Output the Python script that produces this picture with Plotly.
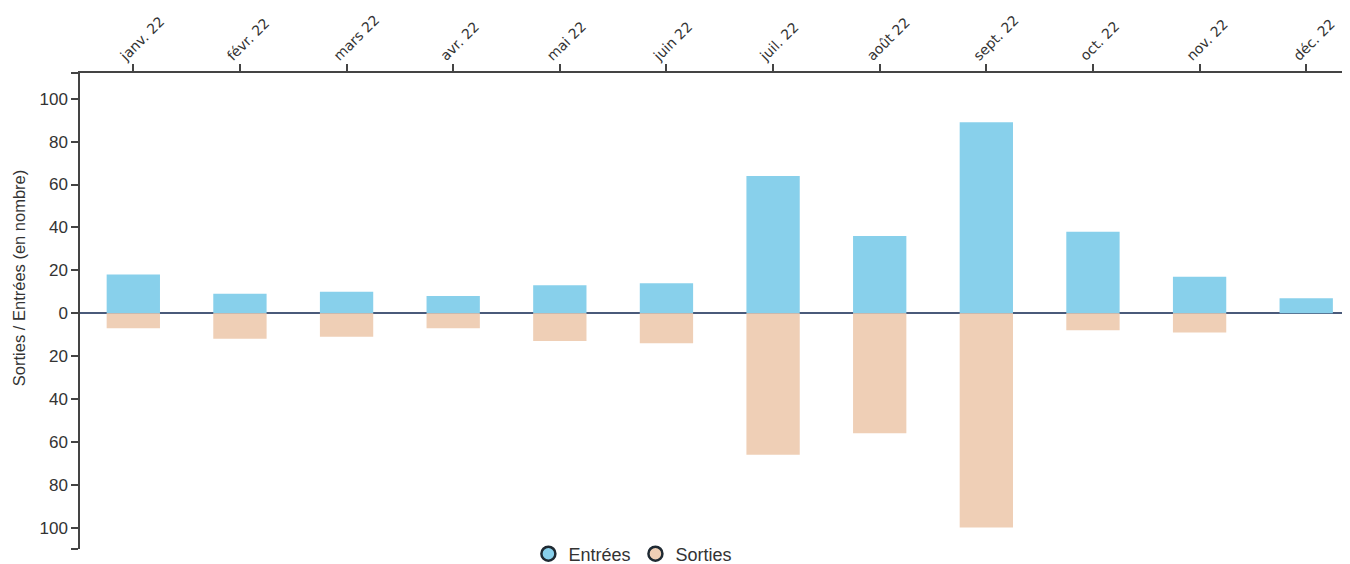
import plotly.graph_objects as go

mois = ["janv. 22", "févr. 22", "mars 22", "avr. 22", "mai 22", "juin 22",
        "juil. 22", "août 22", "sept. 22", "oct. 22", "nov. 22", "déc. 22"]
entrees = [18, 9, 10, 8, 13, 14, 64, 36, 89, 38, 17, 7]
sorties = [7, 12, 11, 7, 13, 14, 66, 56, 100, 8, 9, 0]

y_tick_vals = [-110, -100, -80, -60, -40, -20, 0, 20, 40, 60, 80, 100, 112]
y_tick_text = ["", "100", "80", "60", "40", "20", "0", "20", "40", "60", "80", "100", ""]

col_e = "#88d0eb"
col_s = "#efcfb6"

fig = go.Figure()
fig.add_trace(go.Bar(x=mois, y=entrees, name="Entrées", showlegend=False,
                     marker=dict(color=col_e, line=dict(width=0))))
fig.add_trace(go.Bar(x=mois, y=[-v for v in sorties], name="Sorties", showlegend=False,
                     marker=dict(color=col_s, line=dict(width=0))))

# legend markers (circles with dark outline)
for nm, c in [("Entrées", col_e), ("Sorties", col_s)]:
    fig.add_trace(go.Scatter(x=[None], y=[None], mode="markers", name=nm,
                             marker=dict(symbol="circle", size=14, color=c,
                                         line=dict(color="#1f2a33", width=2.5)),
                             showlegend=True))

L, T, W_PLOT, H_PLOT = 72, 65, 1271, 476

fig.update_layout(
    width=1350, height=564,
    margin=dict(l=L, r=1350 - L - W_PLOT, t=T, b=564 - T - H_PLOT, autoexpand=False),
    paper_bgcolor="white", plot_bgcolor="white",
    barmode="relative", bargap=0.5,
    font=dict(family="Liberation Sans, Arial, sans-serif", color="#333333", size=16),
    legend=dict(orientation="h", x=0.435, xanchor="center",
                yref="container", y=1 - 546 / 564, yanchor="middle",
                font=dict(size=18, color="#333333"), itemsizing="trace",
                bgcolor="rgba(0,0,0,0)"),
    xaxis=dict(side="top", type="category", range=[-0.5, 11.42], automargin=False,
               showline=True, linecolor="#444444", linewidth=1.5,
               ticks="outside", ticklen=7, tickcolor="#444444", tickwidth=1.5,
               tickangle=-45, showgrid=False, zeroline=False,
               ticklabelshift=-12, ticklabelstandoff=-5,
               tickfont=dict(family="DejaVu Sans, Verdana, sans-serif", size=14, color="#333333")),
    yaxis=dict(range=[-110, 112], tickvals=y_tick_vals, ticktext=y_tick_text, automargin=False,
               showline=True, linecolor="#444444", linewidth=1.5,
               ticks="outside", ticklen=7, tickcolor="#444444", tickwidth=1.5,
               showgrid=False, zeroline=True, zerolinecolor="#4a5a7a", zerolinewidth=1.5,
               tickfont=dict(size=17, color="#333333")),
    annotations=[dict(text="Sorties / Entrées (en nombre)", textangle=-90,
                      xref="paper", yref="paper", x=(11 - L) / W_PLOT, y=0.569,
                      xanchor="center", yanchor="middle", showarrow=False,
                      font=dict(size=16.5, color="#333333"))],
)

fig.write_html("out.html")
